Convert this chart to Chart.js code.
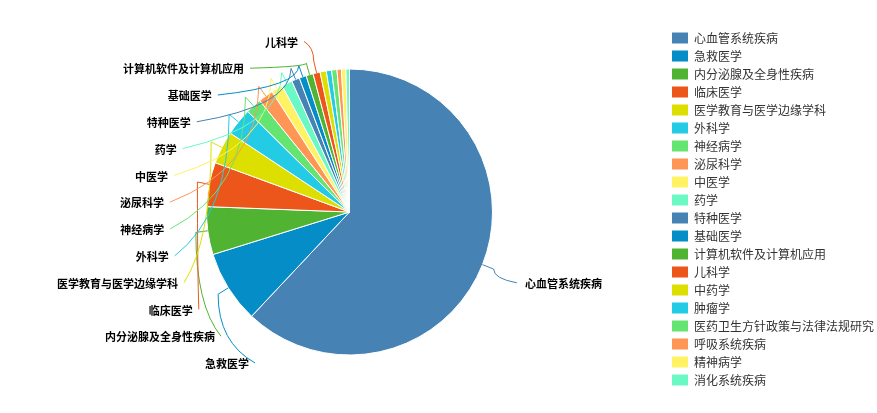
<!DOCTYPE html>
<html>
<head>
<meta charset="utf-8">
<script src="https://cdn.jsdelivr.net/npm/chart.js@4.4.1/dist/chart.umd.min.js"></script>
<style>
  html, body { margin: 0; padding: 0; background: #fff; }
  #wrap { width: 877px; height: 413px; }
</style>
</head>
<body>
<div id="wrap"><canvas id="c" width="877" height="413"></canvas></div>
<script>
// 学科分布
const categories = [
  "心血管系统疾病", "急救医学", "内分泌腺及全身性疾病", "临床医学", "医学教育与医学边缘学科",
  "外科学", "神经病学", "泌尿科学", "中医学", "药学",
  "特种医学", "基础医学", "计算机软件及计算机应用", "儿科学", "中药学",
  "肿瘤学", "医药卫生方针政策与法律法规研究", "呼吸系统疾病", "精神病学", "消化系统疾病"
];
const counts = [620, 82, 54, 50, 37, 31, 18, 17, 13, 12, 9, 8, 8, 8, 7, 6, 6, 5, 5, 4];
const palette = ["#4682B4", "#058DC7", "#50B432", "#ED561B", "#DDDF00",
                 "#24CBE5", "#64E572", "#FF9655", "#FFF263", "#6AF9C4"];
const labelCount = 14; // 只有前 14 项显示外部标签

const FONT = '"Noto Sans CJK SC", "Noto Sans", sans-serif';

// 图例位置微调
const legendNudge = {
  id: "legendNudge",
  afterLayout(chart) {
    const lg = chart.legend;
    lg.left += 7; lg.right += 7;
    lg.top -= 3; lg.bottom -= 3;
  }
};

// 外部标签 + 引导线
const outerLabels = {
  id: "outerLabels",
  afterDatasetsDraw(chart) {
    const ctx = chart.ctx;
    const arcs = chart.getDatasetMeta(0).data;
    const cx = arcs[0].x, cy = arcs[0].y, R = arcs[0].outerRadius;
    const A = R + 43, B = R + 34, cyL = cy + 3;
    const gap = 26.8, yBottom = cy + R + 9;

    const items = [];
    for (let i = 0; i < labelCount; i++) {
      const a = arcs[i];
      const m = (a.startAngle + a.endAngle) / 2;
      items.push({ i, m, left: Math.cos(m) < 0 });
    }
    const left = items.filter(d => d.left).sort((p, q) => p.m - q.m);
    left.forEach((d, k) => { d.y = yBottom - k * gap; });
    items.filter(d => !d.left).forEach(d => { d.y = cy + (R + 52) * Math.sin(d.m); });

    ctx.save();
    ctx.font = "bold 11px " + FONT;
    ctx.textBaseline = "middle";
    items.forEach(d => {
      const dy = Math.max(-0.999, Math.min(0.999, (d.y - cyL) / B));
      const off = Math.max(R * 0.36, A * Math.sqrt(1 - dy * dy));
      const tx = d.left ? cx - off : cx + off + 4;
      const p0 = { x: cx + R * Math.cos(d.m), y: cy + R * Math.sin(d.m) };
      const p1 = { x: cx + (R + 12) * Math.cos(d.m), y: cy + (R + 12) * Math.sin(d.m) };
      const p2 = { x: d.left ? tx + 6 : tx - 8, y: d.y - 1 };

      ctx.strokeStyle = palette[d.i % palette.length];
      ctx.lineWidth = 1;
      ctx.beginPath();
      ctx.moveTo(p0.x, p0.y);
      ctx.lineTo(p1.x, p1.y);
      ctx.quadraticCurveTo(p1.x, p1.y + (p2.y - p1.y) * 0.7, p2.x, p2.y);
      ctx.stroke();

      ctx.fillStyle = "#000";
      ctx.textAlign = d.left ? "right" : "left";
      ctx.fillText(categories[d.i], tx, d.y);
    });
    ctx.restore();
  }
};

new Chart(document.getElementById("c"), {
  type: "pie",
  data: {
    labels: categories,
    datasets: [{
      data: counts,
      backgroundColor: categories.map((_, i) => palette[i % palette.length]),
      borderColor: "#fff",
      borderWidth: 1,
      radius: 143
    }]
  },
  options: {
    responsive: false,
    animation: false,
    layout: { padding: { top: 11, left: 40, right: 0, bottom: 0 } },
    plugins: {
      tooltip: { enabled: false },
      legend: {
        position: "right",
        labels: {
          font: { size: 12, family: FONT },
          color: "#333",
          boxWidth: 16,
          boxHeight: 11,
          padding: 6,
          generateLabels(chart) {
            const base = Chart.overrides.pie.plugins.legend.labels.generateLabels(chart);
            return base.map(l => Object.assign(l, { lineWidth: 0, strokeStyle: l.fillStyle }));
          }
        }
      }
    }
  },
  plugins: [legendNudge, outerLabels]
});
</script>
</body>
</html>
